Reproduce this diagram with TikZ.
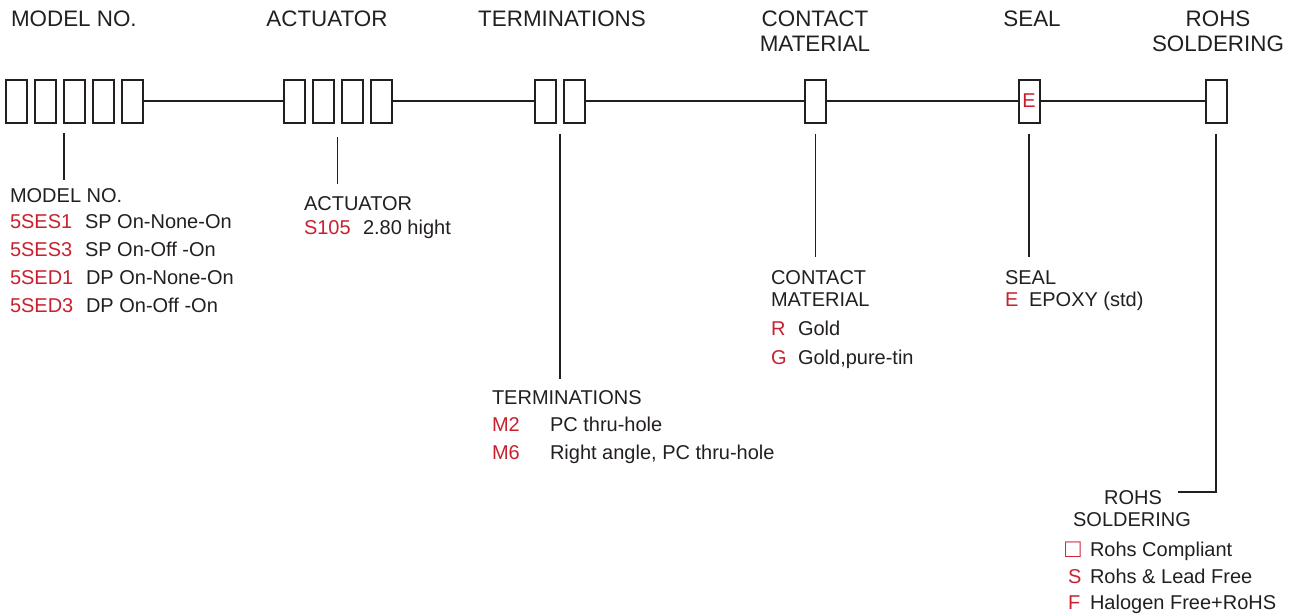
\documentclass[tikz,border=0pt]{standalone}
\usepackage{fontspec}
\setmainfont{Liberation Sans}
\usetikzlibrary{calc}
\definecolor{codered}{RGB}{200,32,46}
\definecolor{inkgray}{RGB}{35,31,32}
\def\topfont{\fontsize{22.4}{26}\selectfont}
\def\lowfont{\fontsize{20}{24}\selectfont}

\begin{document}
\begin{tikzpicture}[x=1pt, y=-1pt, line width=2pt, color=inkgray,
		slot/.style={draw, minimum width=21pt, minimum height=43pt, inner sep=0pt, text=codered, font=\lowfont},
		head/.style={anchor=base, inner sep=0pt, font=\topfont},
		lbl/.style={anchor=base west, inner sep=0pt, font=\lowfont},
		code/.style={lbl, text=codered}]
		%%%%% START %%%%%
		\useasboundingbox (0, 0) rectangle (1289, 613);
		
		% headings
		\node[head, anchor=base west] (hmodel) at (10, 26) {MODEL NO.};
		\node[head] (hact) at (327, 26) {ACTUATOR};
		\node[head] (hterm) at (562, 26) {TERMINATIONS};
		\node[head] (hcont) at (815, 26) {CONTACT};
		\node[head] (hcont2) at (815, 51) {MATERIAL};
		\node[head] (hseal) at (1032, 26) {SEAL};
		\node[head] (hrohs) at (1218, 26) {ROHS};
		\node[head] (hrohs2) at (1218, 51) {SOLDERING};
		
		% code slots
		\node[slot] (m1) at (16, 101) {};
		\node[slot] (m2) at (45, 101) {};
		\node[slot] (m3) at (74, 101) {};
		\node[slot] (m4) at (103, 101) {};
		\node[slot] (m5) at (132.5, 101) {};
		\node[slot] (a1) at (294, 101) {};
		\node[slot] (a2) at (323.5, 101) {};
		\node[slot] (a3) at (352.5, 101) {};
		\node[slot] (a4) at (381.5, 101) {};
		\node[slot] (t1) at (545.5, 101) {};
		\node[slot] (t2) at (574.5, 101) {};
		\node[slot] (c1) at (815.5, 101) {};
		\node[slot] (s1) at (1029, 101) {E};
		\node[slot] (r1) at (1216, 101) {};
		
		\draw (m5.east) -- (a1.west);
		\draw (a4.east) -- (t1.west);
		\draw (t2.east) -- (c1.west);
		\draw (c1.east) -- (s1.west);
		\draw (s1.east) -- (r1.west);
		
		% leaders
		\coordinate (mtop) at (64, 133);
		\coordinate (mbot) at (64, 180);
		\coordinate (atop) at (337.5, 137);
		\coordinate (abot) at (337.5, 184);
		\coordinate (tbot) at (560, 379);
		\coordinate (cbot) at (815.5, 257);
		\coordinate (sbot) at (1029, 257);
		\coordinate (rbend) at (1216, 492);
		\coordinate (rend) at (1178, 492);
		\draw[line width=1.5pt] (mtop) -- (mbot);
		\draw[line width=1.5pt] (atop) -- (abot);
		\draw[line width=1.5pt] ($(t1.south)!0.5!(t2.south)+(0, 10)$) -- (tbot);
		\draw[line width=1.5pt] ($(c1.south)+(0, 10)$) -- (cbot);
		\draw[line width=1.5pt] ($(s1.south)+(0, 10)$) -- (sbot);
		\draw[line width=1.5pt] ($(r1.south)+(0, 10)$) -- (rbend) -- (rend);
		
		% model no.
		\node[lbl] (lmodel) at (9, 202) {MODEL NO.};
		\node[code] (k1) at (9, 228) {5SES1};
		\node[lbl] (d1) at (84, 228) {SP On-None-On};
		\node[code] (k2) at (9, 256) {5SES3};
		\node[lbl] (d2) at (84, 256) {SP On-Off -On};
		\node[code] (k3) at (9, 284) {5SED1};
		\node[lbl] (d3) at (85, 284) {DP On-None-On};
		\node[code] (k4) at (9, 312) {5SED3};
		\node[lbl] (d4) at (85, 312) {DP On-Off -On};
		
		% actuator
		\node[lbl] (lact) at (303, 210) {ACTUATOR};
		\node[code] (k5) at (303, 234) {S105};
		\node[lbl] (d5) at (362, 234) {2.80 hight};
		
		% terminations
		\node[lbl] (lterm) at (491, 404) {TERMINATIONS};
		\node[code] (k6) at (491, 431) {M2};
		\node[lbl] (d6) at (549, 431) {PC thru-hole};
		\node[code] (k7) at (491, 459) {M6};
		\node[lbl] (d7) at (549, 459) {Right angle, PC thru-hole};
		
		% contact material
		\node[lbl] (lcont) at (770, 284) {CONTACT};
		\node[lbl] (lcont2) at (770, 306) {MATERIAL};
		\node[code] (k8) at (770, 335) {R};
		\node[lbl] (d8) at (797, 335) {Gold};
		\node[code] (k9) at (770, 364) {G};
		\node[lbl] (d9) at (797, 364) {Gold,pure-tin};
		
		% seal
		\node[lbl] (lseal) at (1004, 284) {SEAL};
		\node[code] (k10) at (1004, 306) {E};
		\node[lbl] (d10) at (1028, 306) {EPOXY (std)};
		
		% rohs soldering
		\node[lbl, anchor=base] (lrohs) at (1133, 504) {ROHS};
		\node[lbl, anchor=base] (lrohs2) at (1132, 526) {SOLDERING};
		\node[code, font=\fontsize{26}{28}\selectfont] (k11) at (1064, 557) {□};
		\node[lbl] (d11) at (1089, 556) {Rohs Compliant};
		\node[code] (k12) at (1067, 583) {S};
		\node[lbl] (d12) at (1089, 583) {Rohs \& Lead Free};
		\node[code] (k13) at (1067, 609) {F};
		\node[lbl] (d13) at (1089, 609) {Halogen Free+RoHS};
		%%%%% END %%%%%
	\end{tikzpicture}
\end{document}
